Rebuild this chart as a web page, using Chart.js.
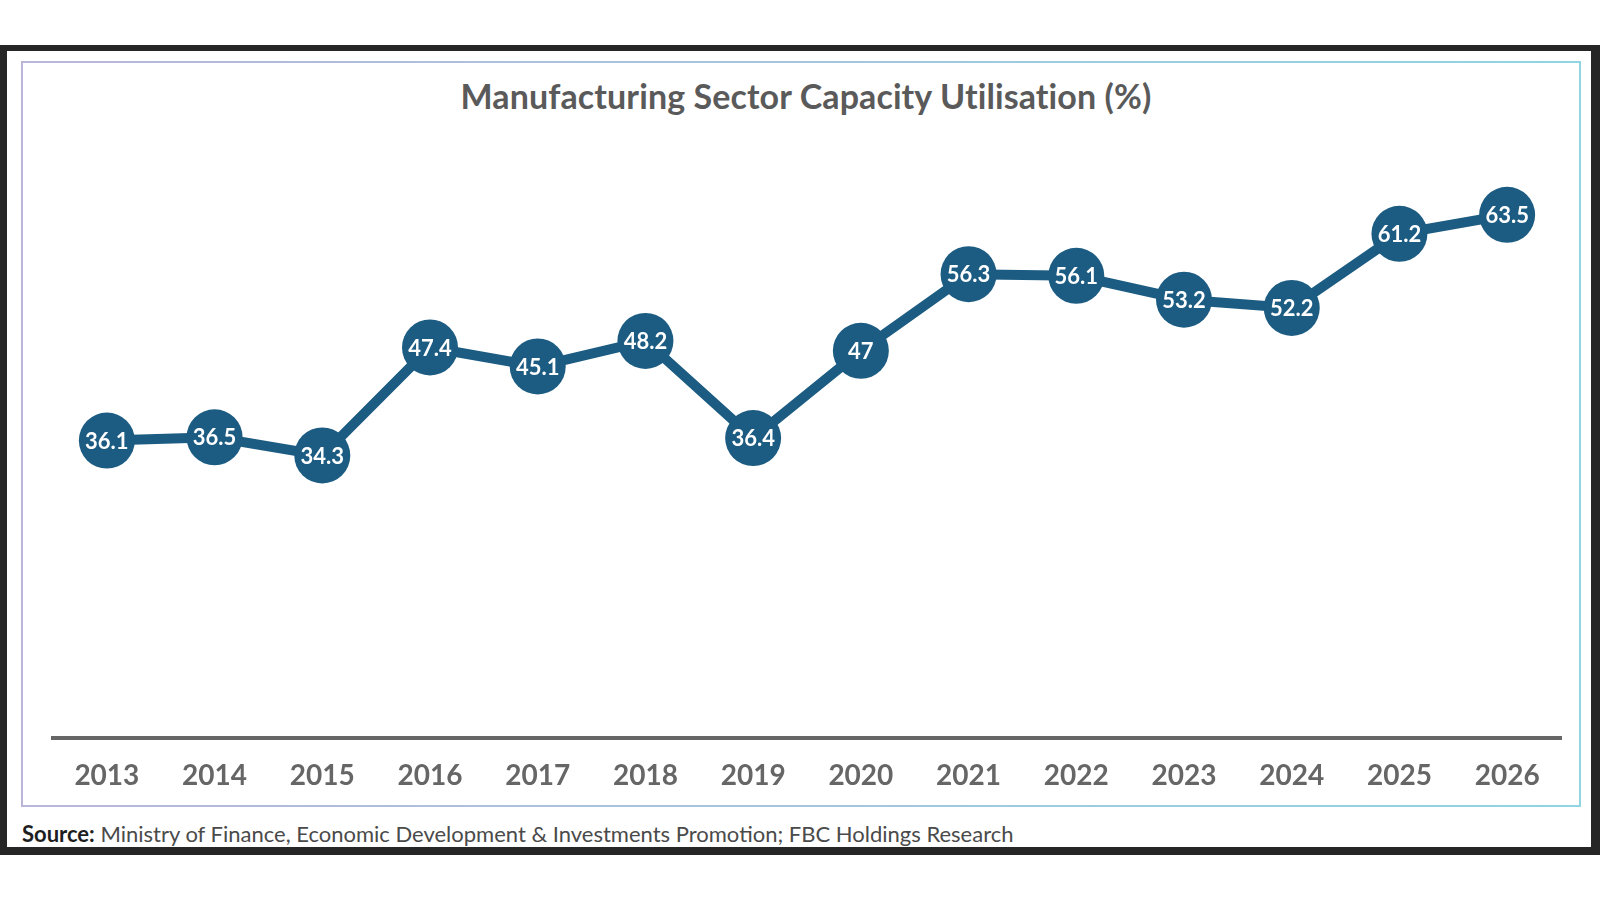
<!DOCTYPE html>
<html>
<head>
<meta charset="utf-8">
<script src="https://cdn.jsdelivr.net/npm/chart.js@4.4.1/dist/chart.umd.min.js"></script>
<style>
  html, body { margin: 0; padding: 0; background: #fff; }
  body { width: 1600px; height: 900px; position: relative; overflow: hidden; font-family: Lato, 'Open Sans', sans-serif; }
  /* dark photo frame */
  .frame { position: absolute; left: 0; top: 45px; width: 1600px; height: 810px; background: #262626; }
  .paper { position: absolute; left: 7px; top: 51px; width: 1584px; height: 796px; background: #fff; }
  .box {
    position: absolute; left: 21px; top: 61px; width: 1556px; height: 742px;
    border: 2px solid; border-image: linear-gradient(to right, #b9b6d9, #8fd5e2) 1;
  }
  .title {
    position: absolute; left: 0; width: 1612px; top: 75px; text-align: center;
    font-size: 34px; font-weight: 700; color: #5a5a5a; letter-spacing: 0.1px;
  }
  .source {
    position: absolute; left: 22px; top: 820px; font-size: 22px; color: #4a4a4a;
  }
  .source b { color: #1e1e1e; }
  #wrap { position: absolute; left: 0; top: 0; width: 1600px; height: 900px; }
</style>
</head>
<body>
<div class="frame"></div>
<div class="paper"></div>
<div class="box"></div>
<div class="title">Manufacturing Sector Capacity Utilisation (%)</div>
<div class="source"><b>Source:</b> Ministry of Finance, Economic Development &amp; Investments Promotion; FBC Holdings Research</div>
<div id="wrap"><canvas id="chart"></canvas></div>
<script>
// Data
const years = ['2013', '2014', '2015', '2016', '2017', '2018', '2019', '2020', '2021', '2022', '2023', '2024', '2025', '2026'];
const utilisation = [36.1, 36.5, 34.3, 47.4, 45.1, 48.2, 36.4, 47, 56.3, 56.1, 53.2, 52.2, 61.2, 63.5];

const lineColor = '#1c5c82';

// white value labels drawn inside the markers
const valueLabels = {
    id: 'valueLabels',
    afterDatasetsDraw(chart) {
        const ctx = chart.ctx;
        const meta = chart.getDatasetMeta(0);
        ctx.save();
        ctx.fillStyle = '#ffffff';
        ctx.font = "700 22px Lato, 'Open Sans', sans-serif";
        ctx.textAlign = 'center';
        ctx.textBaseline = 'middle';
        meta.data.forEach((pt, i) => {
            ctx.fillText(String(utilisation[i]), pt.x, pt.y + 1);
        });
        ctx.restore();
    }
};

Chart.defaults.font.family = "Lato, 'Open Sans', sans-serif";

new Chart(document.getElementById('chart'), {
    type: 'line',
    data: {
        labels: years,
        datasets: [{
            data: utilisation,
            borderColor: lineColor,
            backgroundColor: lineColor,
            borderWidth: 10,
            tension: 0,
            pointRadius: 28,
            pointHoverRadius: 28,
            pointBackgroundColor: lineColor,
            pointBorderWidth: 0,
            fill: false,
        }]
    },
    options: {
        responsive: true,
        maintainAspectRatio: false,
        animation: false,
        layout: {
            padding: { left: 53, right: 39, top: 158, bottom: 0 }
        },
        plugins: {
            legend: { display: false },
            tooltip: { enabled: false },
            title: { display: false },
        },
        scales: {
            x: {
                offset: true,
                grid: { display: false, drawTicks: false },
                border: { display: true, color: '#666666', width: 4 },
                ticks: {
                    color: '#666666',
                    padding: 21,
                    font: { size: 28, weight: '700' },
                },
                afterFit(scale) { scale.height = 162; }
            },
            y: {
                display: false,
                min: 0,
                max: 70.4,
            }
        }
    },
    plugins: [valueLabels]
});
</script>
</body>
</html>
